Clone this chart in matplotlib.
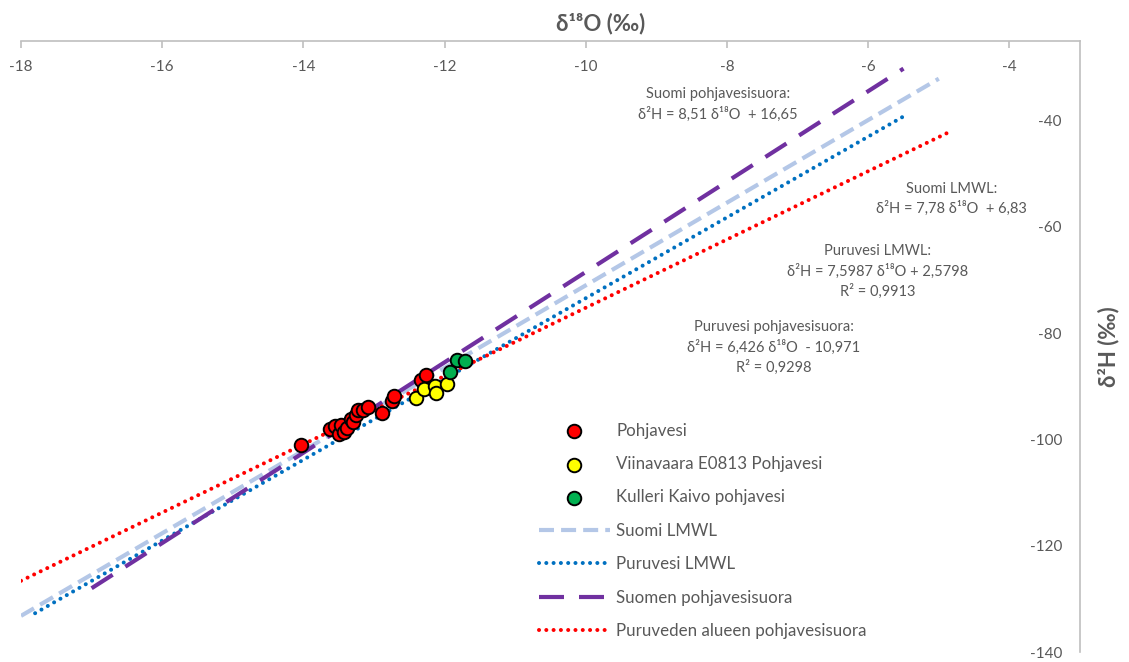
import matplotlib
matplotlib.use('Agg')
import matplotlib.pyplot as plt

plt.rcParams['font.family'] = ['Lato', 'DejaVu Sans']
plt.rcParams['axes.unicode_minus'] = False

# sample points (d18O, d2H)
pohja_x = [-14.03, -13.62, -13.55, -13.50, -13.47, -13.42, -13.38, -13.33, -13.30,
           -13.25, -13.22, -13.15, -13.08, -12.88, -12.74, -12.72, -12.33, -12.26]
pohja_y = [-101.0, -98.0, -97.5, -99.0, -97.2, -98.5, -97.8, -96.2, -96.8,
           -95.4, -94.4, -94.5, -93.9, -95.0, -92.7, -91.8, -88.8, -87.9]
viina_x = [-12.40, -12.29, -12.14, -12.12, -11.97]
viina_y = [-92.2, -90.5, -90.0, -91.3, -89.5]
kulleri_x = [-11.82, -11.71, -11.93]
kulleri_y = [-85.0, -85.2, -87.3]

# line end points
suomi_lmwl_x = [-18.0, -5.0]
suomi_lmwl_y = [-133.2, -32.1]
puru_lmwl_x = [-17.8, -5.5]
puru_lmwl_y = [-132.7, -39.2]
suomi_pv_x = [-17.0, -5.5]
suomi_pv_y = [-128.0, -30.2]
puru_pv_x = [-18.0, -4.8]
puru_pv_y = [-126.6, -41.8]

xticks = [-18, -16, -14, -12, -10, -8, -6, -4]
yticks = [-140, -120, -100, -80, -60, -40]

grey = '#595959'
axis_col = '#bfbfbf'

fig = plt.figure(figsize=(11.29, 6.62), dpi=100)
ax = fig.add_axes([0.0186, 0.0151, 0.938, 0.923])

ax.plot(suomi_lmwl_x, suomi_lmwl_y, color='#b4c7e7', lw=3.0, ls=(0, (3.6, 1.7)),
        label='Suomi LMWL', zorder=2)
ax.plot(puru_lmwl_x, puru_lmwl_y, color='#0070c0', lw=2.9, ls=(0, (0.01, 1.8)),
        dash_capstyle='round', label='Puruvesi LMWL', zorder=2)
ax.plot(suomi_pv_x, suomi_pv_y, color='#7030a0', lw=3.0, ls=(0, (6, 3.6)),
        label='Suomen pohjavesisuora', zorder=2)
ax.plot(puru_pv_x, puru_pv_y, color='#ff0000', lw=2.9, ls=(0, (0.01, 1.8)),
        dash_capstyle='round', label='Puruveden alueen pohjavesisuora', zorder=2)

ax.scatter(pohja_x, pohja_y, s=95, c='#ff0000', edgecolors='black', linewidths=1.4,
           label='Pohjavesi', zorder=3)
ax.scatter(viina_x, viina_y, s=95, c='#ffff00', edgecolors='black', linewidths=1.4,
           label='Viinavaara E0813 Pohjavesi', zorder=3)
ax.scatter(kulleri_x, kulleri_y, s=95, c='#00b050', edgecolors='black', linewidths=1.4,
           label='Kulleri Kaivo pohjavesi', zorder=3)

ax.set_xlim(-18, -3)
ax.set_ylim(-140, -25)
ax.set_xticks(xticks)
ax.set_yticks(yticks)

# x axis drawn at the top, y axis at the right
ax.spines['bottom'].set_position(('axes', 1.0))
ax.spines['left'].set_position(('axes', 1.0))
ax.spines['top'].set_visible(False)
ax.spines['right'].set_visible(False)
for s in ['bottom', 'left']:
    ax.spines[s].set_color(axis_col)
    ax.spines[s].set_linewidth(1.2)
ax.tick_params(axis='x', direction='out', length=5, color=axis_col, width=1.2,
               labelsize=11, labelcolor=grey, pad=9)
ax.tick_params(axis='y', length=0, labelsize=11, labelcolor=grey, pad=13)

ax.xaxis.set_label_position('top')
ax.set_xlabel('δ¹⁸O (‰)', fontsize=16, fontweight='bold', color=grey)
ax.xaxis.set_label_coords(0.547, 1.028)
ax.xaxis.label.set_verticalalignment('center')
ax.yaxis.set_label_position('right')
ax.set_ylabel('δ²H (‰)', fontsize=16, fontweight='bold', color=grey, labelpad=13)

handles, labels = ax.get_legend_handles_labels()
order = [4, 5, 6, 0, 1, 2, 3]
ax.legend([handles[i] for i in order], [labels[i] for i in order],
          loc='upper left', bbox_to_anchor=(0.471, 0.372), bbox_transform=fig.transFigure,
          frameon=False, fontsize=12.2, labelcolor=grey, handlelength=4.2,
          handletextpad=0.4, labelspacing=1.03, borderaxespad=0)

ann = dict(fontsize=10.5, color=grey, ha='center', va='center', linespacing=1.45)
ax.text(-8.13, -37.0, 'Suomi pohjavesisuora:\nδ²H = 8,51 δ¹⁸O  + 16,65', **ann)
ax.text(-4.82, -54.7, 'Suomi LMWL:\nδ²H = 7,78 δ¹⁸O  + 6,83', **ann)
ax.text(-5.87, -68.4, 'Puruvesi LMWL:\nδ²H = 7,5987 δ¹⁸O + 2,5798\nR² = 0,9913', **ann)
ax.text(-7.34, -82.7, 'Puruvesi pohjavesisuora:\nδ²H = 6,426 δ¹⁸O  - 10,971\nR² = 0,9298', **ann)

fig.savefig('out.png', dpi=100)
